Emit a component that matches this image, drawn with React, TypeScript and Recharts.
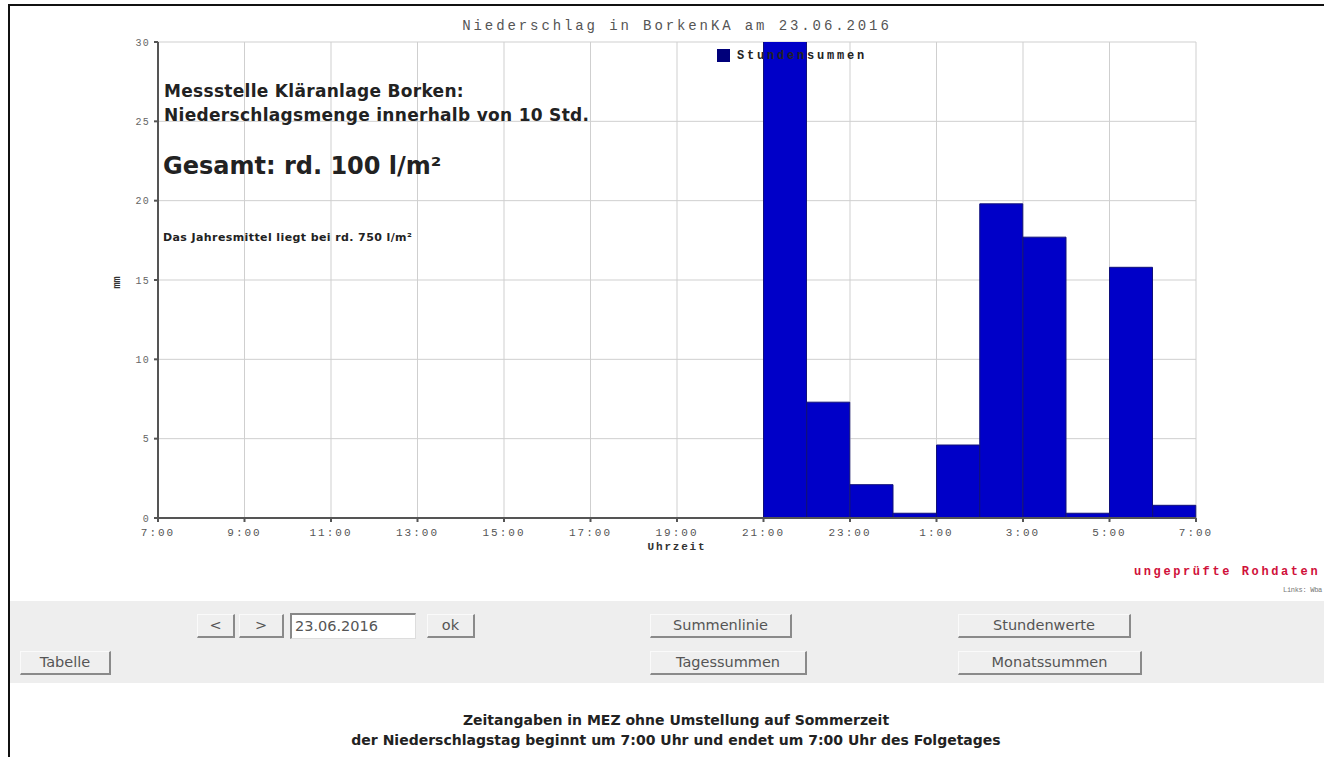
import { Bar, BarChart, CartesianGrid, Label, XAxis, YAxis } from "recharts";

// hours of the precipitation day, 7:00 -> 7:00 next day
const hours = [
  "7:00", "8:00", "9:00", "10:00", "11:00", "12:00", "13:00", "14:00",
  "15:00", "16:00", "17:00", "18:00", "19:00", "20:00", "21:00", "22:00",
  "23:00", "0:00", "1:00", "2:00", "3:00", "4:00", "5:00", "6:00",
];
// Stundensummen in mm
const hourlySums = [
  0, 0, 0, 0, 0, 0, 0, 0, 0, 0, 0, 0, 0, 0,
  31, 7.3, 2.1, 0.3, 4.6, 19.8, 17.7, 0.3, 15.8, 0.8,
];
const yTicks = [0, 5, 10, 15, 20, 25, 30];
const xTicks = [0, 2, 4, 6, 8, 10, 12, 14, 16, 18, 20, 22, 24];

// h = hours since 7:00, used by the time axis
const data = hours.map((hour, i) => ({ hour, h: i, value: hourlySums[i] }));

const mono = "'Liberation Mono', 'DejaVu Sans Mono', monospace";
const sans = "'DejaVu Sans', Verdana, sans-serif";

function Btn({ x, y, w, h = 24, children }: { x: number; y: number; w: number; h?: number; children: any }) {
  return (
    <div
      style={{
        position: "absolute",
        left: x,
        top: y,
        width: w,
        height: h,
        boxSizing: "border-box",
        background: "#efefef",
        borderRight: "2px solid #8a8a8a",
        borderBottom: "2px solid #8a8a8a",
        borderTop: "1px solid #fafafa",
        borderLeft: "1px solid #fafafa",
        font: `14.5px ${sans}`,
        color: "#555",
        textAlign: "center",
        lineHeight: `${h - 3}px`,
      }}
    >
      {children}
    </div>
  );
}

export default function App() {
  const fmt = (v: number) => `${(7 + v) % 24}:00`;
  return (
    <div
      style={{
        position: "fixed",
        left: 0,
        top: 0,
        width: 1324,
        height: 757,
        background: "#fff",
        overflow: "hidden",
      }}
    >
      {/* frame */}
      <div style={{ position: "absolute", left: 8, top: 4, width: 1330, height: 2, background: "#111" }} />
      <div style={{ position: "absolute", left: 8, top: 4, width: 2, height: 760, background: "#111" }} />

      <div
        style={{
          position: "absolute",
          left: 0,
          top: 18,
          width: 1354,
          textAlign: "center",
          font: `14px ${mono}`,
          letterSpacing: 2.9,
          color: "#555",
        }}
      >
        Niederschlag in BorkenKA am 23.06.2016
      </div>

      <div style={{ position: "absolute", left: 0, top: 0 }}>
        <BarChart
          width={1324}
          height={600}
          data={data}
          margin={{ top: 42, right: 128, bottom: 50, left: 0 }}
          barCategoryGap={0}
        >
          <CartesianGrid xAxisId="t" stroke="#cfcfcf" strokeWidth={1} />
          <XAxis xAxisId="c" dataKey="hour" type="category" orientation="top" height={0} hide />
          <XAxis
            xAxisId="t"
            dataKey="h"
            type="number"
            domain={[0, 24]}
            allowDataOverflow
            ticks={xTicks}
            tickFormatter={fmt}
            height={32}
            stroke="#555"
            strokeWidth={2}
            tickSize={4}
            tickMargin={6}
            tick={{ fontFamily: mono, fontSize: 11, letterSpacing: 2.0, fill: "#555" }}
          >
            <Label
              value="Uhrzeit"
              position="insideBottom"
              offset={0}
              style={{ fontFamily: mono, fontSize: 11, fontWeight: "bold", letterSpacing: 1.8, fill: "#333" }}
            />
          </XAxis>
          <YAxis
            domain={[0, 30]}
            ticks={yTicks}
            allowDataOverflow
            width={158}
            stroke="#555"
            strokeWidth={2}
            tickSize={4}
            tickMargin={4}
            tick={{ fontFamily: mono, fontSize: 10, letterSpacing: 1.2, fill: "#666" }}
          />
          <Bar
            xAxisId="c"
            dataKey="value"
            fill="#0000c8"
            stroke="#10107a"
            strokeWidth={1}
            isAnimationActive={false}
          />
        </BarChart>
      </div>

      {/* y axis unit */}
      <div
        style={{
          position: "absolute",
          left: 107,
          top: 277,
          width: 20,
          textAlign: "center",
          transform: "rotate(-90deg)",
          font: `bold 10px ${mono}`,
          color: "#333",
        }}
      >
        mm
      </div>

      {/* legend */}
      <div style={{ position: "absolute", left: 717, top: 49, width: 13, height: 13, background: "#00007a" }} />
      <div
        style={{
          position: "absolute",
          left: 737,
          top: 49,
          font: `bold 12px ${mono}`,
          letterSpacing: 2.8,
          color: "#222",
        }}
      >
        Stundensummen
      </div>

      {/* annotations */}
      <div
        style={{
          position: "absolute",
          left: 164,
          top: 79,
          font: `bold 17px ${sans}`,
          letterSpacing: 0.3,
          color: "#222",
          lineHeight: "24px",
        }}
      >
        Messstelle Kläranlage Borken:
        <br />
        Niederschlagsmenge innerhalb von 10 Std.
      </div>
      <div style={{ position: "absolute", left: 163, top: 152, font: `bold 24px ${sans}`, color: "#222" }}>
        Gesamt: rd. 100 l/m²
      </div>
      <div
        style={{
          position: "absolute",
          left: 163,
          top: 231,
          font: `bold 11px ${sans}`,
          letterSpacing: 0.4,
          color: "#222",
        }}
      >
        Das Jahresmittel liegt bei rd. 750 l/m²
      </div>

      <div
        style={{
          position: "absolute",
          left: 1134,
          top: 565,
          font: `bold 12px ${mono}`,
          letterSpacing: 2.6,
          color: "#d0103a",
          whiteSpace: "nowrap",
        }}
      >
        ungeprüfte Rohdaten
      </div>
      <div
        style={{
          position: "absolute",
          left: 1283,
          top: 586,
          font: `7px ${mono}`,
          letterSpacing: -0.3,
          color: "#777",
          whiteSpace: "nowrap",
        }}
      >
        Links: Wba
      </div>

      {/* control panel */}
      <div style={{ position: "absolute", left: 10, top: 601, width: 1314, height: 82, background: "#eeeeee" }} />
      <Btn x={197} y={614} w={38}>&lt;</Btn>
      <Btn x={239} y={614} w={45}>&gt;</Btn>
      <div
        style={{
          position: "absolute",
          left: 290,
          top: 613,
          width: 126,
          height: 26,
          boxSizing: "border-box",
          background: "#fff",
          borderTop: "2px solid #888",
          borderLeft: "2px solid #888",
          borderRight: "1px solid #ddd",
          borderBottom: "1px solid #ddd",
          font: `14.5px ${sans}`,
          color: "#555",
          paddingLeft: 3,
          lineHeight: "22px",
        }}
      >
        23.06.2016
      </div>
      <Btn x={427} y={614} w={48}>ok</Btn>
      <Btn x={20} y={651} w={91}>Tabelle</Btn>
      <Btn x={650} y={614} w={142}>Summenlinie</Btn>
      <Btn x={650} y={651} w={157}>Tagessummen</Btn>
      <Btn x={958} y={614} w={173}>Stundenwerte</Btn>
      <Btn x={958} y={651} w={184}>Monatssummen</Btn>

      <div
        style={{
          position: "absolute",
          left: 14,
          top: 710,
          width: 1324,
          textAlign: "center",
          font: `bold 14px ${sans}`,
          color: "#222",
          lineHeight: "20px",
        }}
      >
        Zeitangaben in MEZ ohne Umstellung auf Sommerzeit
        <br />
        der Niederschlagstag beginnt um 7:00 Uhr und endet um 7:00 Uhr des Folgetages
      </div>
    </div>
  );
}
